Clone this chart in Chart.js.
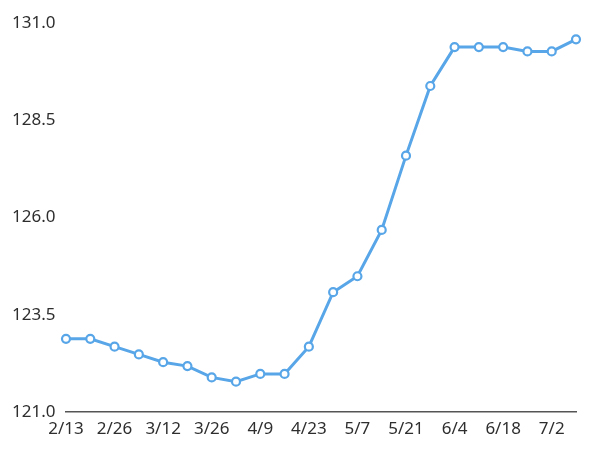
<!DOCTYPE html>
<html>
<head>
<meta charset="utf-8">
<script src="https://cdn.jsdelivr.net/npm/chart.js@4/dist/chart.umd.min.js"></script>
<style>
html,body{margin:0;padding:0;background:#fff;}
#wrap{width:600px;height:457px;}
</style>
</head>
<body>
<div id="wrap"><canvas id="c" width="600" height="457"></canvas></div>
<script>
const dates = ['2/13','2/19','2/26','3/5','3/12','3/19','3/26','4/2','4/9','4/16','4/23','4/30','5/7','5/14','5/21','5/28','6/4','6/11','6/18','6/25','7/2','7/9'];
const prices = [122.88,122.88,122.68,122.48,122.28,122.18,121.89,121.78,121.98,121.98,122.68,124.08,124.49,125.68,127.59,129.38,130.38,130.38,130.38,130.27,130.27,130.58];
const yTicks = [121.0,123.5,126.0,128.5,131.0];
const lineColor = '#58a6e8';
const textColor = '#2e2e2e';
const fontFamily = '"Noto Sans", "Noto Sans CJK JP", sans-serif';

new Chart(document.getElementById('c'), {
  type: 'line',
  data: {
    labels: dates,
    datasets: [{
      data: prices,
      borderColor: lineColor,
      backgroundColor: '#ffffff',
      borderWidth: 3,
      pointRadius: 4,
      pointBorderWidth: 2.2,
      pointBackgroundColor: '#ffffff',
      pointBorderColor: lineColor,
      tension: 0,
      fill: false
    }]
  },
  options: {
    responsive: false,
    animation: false,
    layout: {padding: {left: 12, right: 24, top: 23, bottom: 0}},
    plugins: {legend: {display: false}, tooltip: {enabled: false}},
    scales: {
      x: {
        offset: false,
        grid: {display: false, drawTicks: false},
        border: {display: true, color: '#555555', width: 1.5},
        ticks: {
          autoSkip: false,
          maxRotation: 0,
          padding: 7,
          color: textColor,
          font: {family: fontFamily, size: 17},
          callback: function(v, i) { return i % 2 === 0 ? dates[i] : ''; }
        },
        afterFit: function(s) { s.height = 45; }
      },
      y: {
        min: yTicks[0],
        max: yTicks[yTicks.length - 1],
        grid: {display: false, drawTicks: false},
        border: {display: false},
        afterBuildTicks: function(s) { s.ticks = yTicks.map(v => ({value: v})); },
        ticks: {
          crossAlign: 'far',
          color: textColor,
          font: {family: fontFamily, size: 17},
          callback: function(v) { return Number(v).toFixed(1); }
        },
        afterFit: function(s) { s.width = 54; }
      }
    }
  }
});
</script>
</body>
</html>
